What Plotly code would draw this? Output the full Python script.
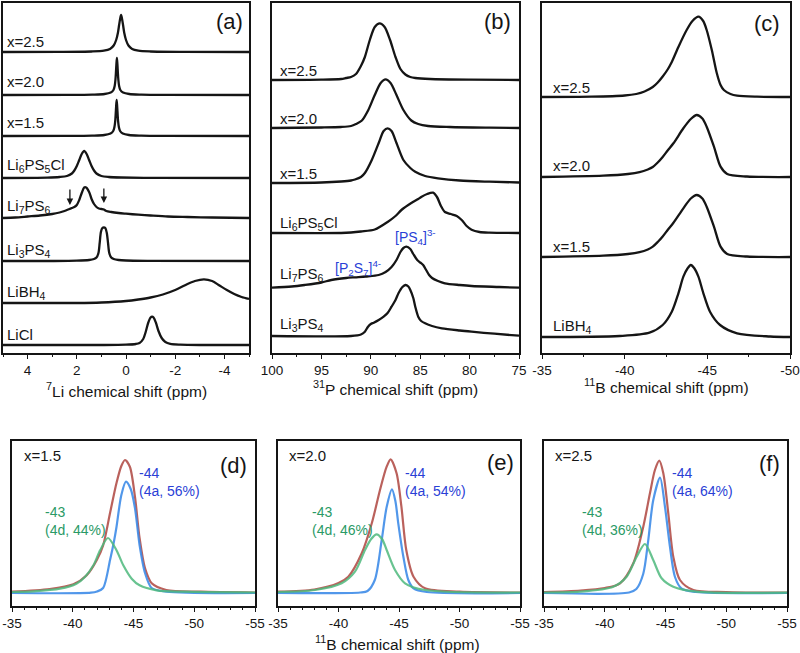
import plotly.graph_objects as go

# ---------------- Panel (a): 7Li spectra (ppm, intensity) ----------------
A_X25_PPM = [5, 2.7, 1.4, 0.9, 0.65, 0.5, 0.4, 0.33, 0.28, 0.24, 0.2, 0.16, 0.12, 0.07, 0.0, -0.1, -0.25, -0.5, -1.0, -2.3, -5]
A_X25_INT = [0, 0.1, 0.5, 1.3, 3, 6.5, 12, 19, 27, 33, 37, 33, 27, 19, 12, 6.5, 3, 1.3, 0.5, 0.1, 0]
A_X20_PPM = [5, 2.37, 1.37, 0.87, 0.62, 0.51, 0.46, 0.43, 0.41, 0.39, 0.37, 0.35, 0.33, 0.31, 0.28, 0.23, 0.12, -0.13, -0.63, -1.63, -5]
A_X20_INT = [0, 0.1, 0.4, 1, 2.5, 5, 9, 15, 22, 31, 37, 31, 22, 15, 9, 5, 2.5, 1, 0.4, 0.1, 0]
A_X15_PPM = [5, 2.38, 1.38, 0.88, 0.63, 0.52, 0.47, 0.44, 0.42, 0.4, 0.38, 0.36, 0.34, 0.32, 0.29, 0.24, 0.13, -0.12, -0.62, -1.62, -5]
A_X15_INT = [0, 0.1, 0.4, 1, 2.5, 5, 9, 14.5, 21.5, 30, 36, 30, 21.5, 14.5, 9, 5, 2.5, 1, 0.4, 0.1, 0]
A_LI6_PPM = [5, 3.2, 2.7, 2.4, 2.2, 2.1, 2.0, 1.9, 1.8, 1.7, 1.6, 1.5, 1.4, 1.3, 1.2, 1.0, 0.7, 0.2, -1.3, -5]
A_LI6_INT = [0, 0.4, 1, 2, 4.5, 7.5, 12, 18, 24, 27, 24, 18, 12, 7.5, 4.5, 2, 1, 0.5, 0.1, 0]
A_LI7_PPM = [5, 4.5, 4, 3.5, 3, 2.7, 2.5, 2.3, 2.2, 2.1, 2.0, 1.9, 1.8, 1.7, 1.62, 1.5, 1.4, 1.3, 1.2, 1.1,
             1.0, 0.9, 0.8, 0.6, 0.3, 0, -0.5, -1, -1.7, -2.5, -3.5, -5]
A_LI7_INT = [0, 0.5, 1.5, 2.5, 4, 5.5, 7, 9, 10, 11, 13, 18, 25, 30.5, 30.5, 26, 19, 14, 11, 9.5,
             9, 8.5, 7, 6, 5, 4.3, 3.3, 2.5, 1.5, 1, 0.5, 0]
A_LI3_PPM = [5, 3, 2, 1.5, 1.3, 1.2, 1.12, 1.07, 1.02, 0.96, 0.9, 0.84, 0.78, 0.73, 0.68, 0.6, 0.5, 0.3, 0, -1, -5]
A_LI3_INT = [0, 0, 0.3, 1, 2, 3.5, 8, 18, 29, 33, 33.5, 33, 28, 18, 8, 3.5, 2, 1, 0.5, 0.2, 0]
A_LIBH4_PPM = [5, 2, 1, 0, -0.5, -1, -1.5, -2, -2.5, -2.8, -3.17, -3.5, -3.8, -4.1, -4.4, -4.7, -5]
A_LIBH4_INT = [0, 0, 0.5, 2, 3.5, 5.5, 8.5, 13, 19, 22, 23.7, 22, 17.5, 13, 9, 6, 4]
A_LICL_PPM = [5, 1, 0, -0.4, -0.55, -0.7, -0.8, -0.9, -1.0, -1.06, -1.12, -1.22, -1.32, -1.45, -1.6, -1.8, -2.2, -3, -5]
A_LICL_INT = [0, 0, 0.3, 1, 2, 6, 13, 22, 27.5, 28.3, 27.5, 22, 14, 7, 3, 1.2, 0.4, 0, 0]
A_LABELS = ["x=2.5", "x=2.0", "x=1.5", "Li<sub>6</sub>PS<sub>5</sub>Cl", "Li<sub>7</sub>PS<sub>6</sub>",
            "Li<sub>3</sub>PS<sub>4</sub>", "LiBH<sub>4</sub>", "LiCl"]
A_OFFSETS = [301, 258, 217, 175, 135, 92, 50, 8]
A_TICKS = [4, 2, 0, -2, -4]
A_TICKTEXT = ["4", "2", "0", "-2", "-4"]

# ---------------- Panel (b): 31P spectra ----------------
B_X25_PPM = [100, 95, 93, 92.5, 92, 91.5, 91.0, 90.6, 90.1, 89.6, 89.1, 88.6, 88.05, 87.5, 87, 86.5, 86, 85.5, 84, 80, 75]
B_X25_INT = [0, 0.3, 1, 2, 3, 6, 14, 23, 40, 53, 56.7, 53, 40, 23, 11, 5.5, 3, 2, 1, 0.3, 0]
B_X20_PPM = [100, 95, 93, 92, 91.5, 90.9, 90.25, 89.6, 89.0, 88.5, 88.0, 87.4, 86.7, 85.9, 85.2, 84.2, 82, 78, 75]
B_X20_INT = [0, 0.5, 1, 2, 4, 7.5, 18, 33, 45, 48.7, 45, 33, 18, 7.5, 4, 2, 1, 0.3, 0]
B_X15_PPM = [100, 95, 93, 92, 91.6, 91, 90.6, 89.9, 89.2, 88.7, 88.3, 87.9, 87.4, 86.7, 86, 85.5, 84.5, 83.2, 81, 78, 75]
B_X15_INT = [0, 0.5, 1.5, 2.5, 3.5, 6, 10, 23, 40, 52, 54.7, 52, 40, 23, 15, 11.3, 7, 4.7, 2.5, 1.3, 0.5]
B_LI6_PPM = [100, 93, 92, 91, 89.6, 88.3, 87.5, 86.9, 85.9, 85.2, 84.9, 84.3, 83.7, 83.3, 82.9, 82.5, 81.9, 81.3, 80.8, 80.3, 79.8, 79, 78, 75]
B_LI6_INT = [0, 0, 0.5, 1.5, 3.5, 11, 17, 23, 30, 34, 36, 39, 40.3, 36, 27, 21, 19, 17, 13, 7, 3.3, 1, 0.3, 0]
B_LI7_PPM = [100, 98, 96.7, 95, 94, 92.5, 91.6, 90.5, 89.2, 88.5, 87.9, 87.4, 87.0, 86.7, 86.4, 86.0, 85.7, 85.3, 85.0,
             84.7, 84.4, 84.1, 83.8, 83.2, 82.5, 81, 79.8, 77, 75]
B_LI7_INT = [0.3, 1.5, 3, 5.5, 8, 10, 10.7, 11.5, 13, 16, 21, 28, 36, 40, 41.3, 39, 34, 28, 25.5,
             23, 18, 13, 10, 7, 4.7, 3, 2, 1, 0.3]
B_LI3_PPM = [100, 92, 91, 90.6, 90.3, 90.0, 89.7, 89.2, 88.7, 88.3, 87.9, 87.5, 87.2, 86.8, 86.5, 86.2, 86.0, 85.7,
             85.5, 85.2, 84.9, 84.5, 83.8, 82.8, 81, 79.8, 77.5, 75]
B_LI3_INT = [0, 0, 1.5, 4.3, 9, 12, 13.3, 16, 19.3, 23, 29.3, 36, 42.7, 49, 51, 49.5, 46, 38,
             29.3, 19.3, 15, 12.7, 10, 7.7, 5.5, 4.3, 2.3, 0.3]
B_LABELS = ["x=2.5", "x=2.0", "x=1.5", "Li<sub>6</sub>PS<sub>5</sub>Cl", "Li<sub>7</sub>PS<sub>6</sub>", "Li<sub>3</sub>PS<sub>4</sub>"]
B_OFFSETS = [273, 225, 170, 120, 65, 17]
B_TICKS = [100, 95, 90, 85, 80, 75]
B_TICKTEXT = ["100", "95", "90", "85", "80", "75"]

# ---------------- Panel (c): 11B spectra ----------------
C_X25_PPM = [-35, -38, -40, -40.7, -41.2, -41.7, -42.0, -42.3, -42.6, -42.85, -43.25, -43.75, -44.1, -44.46, -44.75, -44.96, -45.27,
             -45.57, -45.8, -46.0, -46.4, -46.8, -48, -50]
C_X25_INT = [0, 0.3, 1.5, 3, 5.5, 10, 14.5, 20.5, 27.5, 35, 50, 67, 76, 80.3, 76, 67, 47, 24, 12, 7, 3, 1.3, 0.3, 0]
C_X20_PPM = [-35, -38.7, -40.2, -40.9, -41.4, -41.7, -42.0, -42.3, -42.6, -42.95, -43.55, -44.0, -44.36, -44.7, -44.96, -45.4, -45.8, -46.2, -47.4, -50]
C_X20_INT = [0, 1.3, 3, 4.8, 7.5, 10, 14.5, 20, 26.5, 33.7, 48.7, 58, 62, 58.5, 50.3, 30.3, 10.3, 3, 0.5, 0]
C_X15_PPM = [-35, -38.7, -40.2, -40.9, -41.4, -41.7, -42.0, -42.3, -42.6, -42.95, -43.55, -44.0, -44.36, -44.7, -44.96, -45.4, -45.8, -46.2, -47.4, -50]
C_X15_INT = [0, 1.3, 3, 4.8, 7.5, 10.3, 15, 20.5, 27, 34.3, 48.7, 58.5, 62, 58.5, 50.3, 30.3, 10.3, 3, 0.5, 0]
C_LIBH4_PPM = [-35, -39.7, -41.5, -42.3, -42.85, -43.25, -43.55, -43.8, -44.0, -44.2, -44.46, -44.76, -45.16, -45.77, -46.8, -48.8, -50]
C_LIBH4_INT = [0, 1, 4.3, 12, 25.3, 43.7, 60.3, 68.5, 72, 69, 60.3, 43.7, 25.3, 12, 3.7, 0.5, 0]
C_LABELS = ["x=2.5", "x=2.0", "x=1.5", "LiBH<sub>4</sub>"]
C_OFFSETS = [256, 176, 96, 16]
C_TICKS = [-35, -40, -45, -50]
C_TICKTEXT = ["-35", "-40", "-45", "-50"]

# ---------------- Panels (d)-(f): 11B fits ----------------
D_SUM_PPM = [-35, -38.1, -40.05, -41.15, -41.97, -42.5, -43.07, -43.6, -44.0, -44.3, -44.7, -45.12, -45.5, -45.95, -46.5, -47.7, -50.5, -55]
D_SUM_INT = [1.3, 4, 8.7, 17.7, 32.7, 47.7, 80, 110, 127, 133, 126.3, 96.3, 55, 24.7, 9.7, 3, 1.3, 0.5]
D_4A_PPM = [-35, -41.5, -42.0, -42.5, -43.07, -43.4, -43.6, -44.0, -44.38, -44.77, -45.12, -45.5, -45.95, -46.5, -47.7, -55]
D_4A_INT = [0, 0.3, 1.5, 5, 33, 52, 66, 98, 111.3, 104, 85, 48, 20, 5, 1.3, 0]
D_4D_PPM = [-35, -36.75, -38.95, -40.3, -41.0, -41.7, -42.25, -42.9, -43.6, -44.16, -44.85, -45.5, -46.9, -49.1, -55]
D_4D_INT = [1, 1.7, 4.3, 9.3, 16, 27.7, 42.7, 55, 42.7, 27.7, 14.3, 7.7, 2.7, 1.3, 0.5]

E_SUM_PPM = [-35, -38, -40.0, -40.81, -41.92, -42.75, -43.43, -43.98, -44.31, -44.8, -45.2, -45.6, -46.2, -47.15, -50, -55]
E_SUM_INT = [1.3, 3.5, 10, 16.3, 39.7, 69.7, 103, 126.3, 133.7, 119.7, 86.3, 43, 16.3, 4.7, 1.3, 0.5]
E_4A_PPM = [-35, -41.8, -42.4, -43.0, -43.57, -43.98, -44.42, -44.7, -44.94, -45.36, -45.77, -46.2, -47.3, -55]
E_4A_INT = [0, 0.5, 2, 13, 53, 86, 103.7, 92, 69.7, 36.3, 13, 4.7, 1, 0]
E_4D_PPM = [-35, -38.06, -40.26, -41.36, -42.19, -42.7, -43.15, -43.6, -43.98, -44.67, -45.5, -47.15, -55]
E_4D_INT = [1, 3, 9.7, 21.3, 43, 54, 58.7, 54, 43, 23, 9.7, 3, 0.5]

F_SUM_PPM = [-35, -38, -40.0, -41.26, -42.35, -43.17, -43.72, -44.13, -44.49, -44.82, -45.23, -45.64, -46.19, -47.29, -50, -55]
F_SUM_INT = [1, 2.5, 5, 9.7, 29.7, 66.3, 99.7, 123, 132.3, 119.7, 79.7, 36.3, 13, 3, 1, 0.3]
F_4A_PPM = [-35, -42.0, -42.6, -43.17, -43.58, -43.99, -44.55, -44.96, -45.37, -45.78, -46.33, -47.5, -55]
F_4A_INT = [0, 0.5, 4, 19.3, 52.7, 92.7, 115.3, 86, 46, 16, 4.3, 1, 0]
F_4D_PPM = [-35, -37.96, -40.7, -41.8, -42.63, -43.31, -43.99, -44.68, -45.64, -47.57, -55]
F_4D_INT = [0.5, 1.3, 6.3, 16.3, 36.3, 49, 33, 14.7, 6.3, 1.3, 0.3]
FIT_TICKS = [-35, -40, -45, -50, -55]
FIT_TICKTEXT = ["-35", "-40", "-45", "-50", "-55"]

FIT_SAMPLES = ["x=1.5", "x=2.0", "x=2.5"]
FIT_4A_TEXT = ["-44<br>(4a, 56%)", "-44<br>(4a, 54%)", "-44<br>(4a, 64%)"]
FIT_4D_TEXT = ["-43<br>(4d, 44%)", "-43<br>(4d, 46%)", "-43<br>(4d, 36%)"]
PANEL_TAGS = ["(a)", "(b)", "(c)", "(d)", "(e)", "(f)"]

# ---------------- Figure ----------------
W, H = 800, 653
FONT = "Liberation Sans, Arial, sans-serif"
INK = "#151515"
C_SUM = "rgba(178,80,74,0.9)"
C_4A = "rgba(62,140,232,0.9)"
C_4D = "rgba(78,185,125,0.85)"
T_4A = "#2a3fd6"
T_4D = "#2a9a66"


def px(x):
    return x / W


def py(y):
    return 1 - y / H


fig = go.Figure()

top_sets = [
    ("x", "y", [(A_X25_PPM, A_X25_INT), (A_X20_PPM, A_X20_INT), (A_X15_PPM, A_X15_INT), (A_LI6_PPM, A_LI6_INT),
                (A_LI7_PPM, A_LI7_INT), (A_LI3_PPM, A_LI3_INT), (A_LIBH4_PPM, A_LIBH4_INT), (A_LICL_PPM, A_LICL_INT)], A_OFFSETS),
    ("x2", "y2", [(B_X25_PPM, B_X25_INT), (B_X20_PPM, B_X20_INT), (B_X15_PPM, B_X15_INT), (B_LI6_PPM, B_LI6_INT),
                  (B_LI7_PPM, B_LI7_INT), (B_LI3_PPM, B_LI3_INT)], B_OFFSETS),
    ("x3", "y3", [(C_X25_PPM, C_X25_INT), (C_X20_PPM, C_X20_INT), (C_X15_PPM, C_X15_INT), (C_LIBH4_PPM, C_LIBH4_INT)], C_OFFSETS),
]
for xa, ya, curves, offs in top_sets:
    for (xs, ys), off in zip(curves, offs):
        fig.add_trace(go.Scatter(x=xs, y=[v + off for v in ys], xaxis=xa, yaxis=ya, mode="lines",
                                 line=dict(color=INK, width=2.3, shape="spline", smoothing=0.8),
                                 showlegend=False, hoverinfo="skip"))

fit_sets = [
    ("x4", "y4", (D_SUM_PPM, D_SUM_INT), (D_4A_PPM, D_4A_INT), (D_4D_PPM, D_4D_INT)),
    ("x5", "y5", (E_SUM_PPM, E_SUM_INT), (E_4A_PPM, E_4A_INT), (E_4D_PPM, E_4D_INT)),
    ("x6", "y6", (F_SUM_PPM, F_SUM_INT), (F_4A_PPM, F_4A_INT), (F_4D_PPM, F_4D_INT)),
]
for xa, ya, s, a, d in fit_sets:
    for (xs, ys), col in ((s, C_SUM), (a, C_4A), (d, C_4D)):
        fig.add_trace(go.Scatter(x=xs, y=ys, xaxis=xa, yaxis=ya, mode="lines",
                                 line=dict(color=col, width=2.2, shape="spline", smoothing=0.8),
                                 showlegend=False, hoverinfo="skip"))


def xaxis(dom, rng, tickvals, ticktext, minor, anchor):
    return dict(domain=[px(dom[0]), px(dom[1])], range=rng, anchor=anchor, automargin=False,
                showline=True, mirror=True, linecolor=INK, linewidth=1.5,
                ticks="outside", ticklen=4, tickwidth=1.2, tickcolor=INK,
                tickmode="array", tickvals=tickvals, ticktext=ticktext,
                minor=dict(dtick=minor, tick0=0, ticks="outside", ticklen=2.5, tickwidth=1, tickcolor=INK),
                showgrid=False, zeroline=False, tickfont=dict(size=13.5, color=INK, family=FONT), fixedrange=True)


def yaxis(top, bot, rng, anchor):
    return dict(domain=[py(bot), py(top)], range=rng, anchor=anchor, automargin=False,
                showline=True, mirror=True, linecolor=INK, linewidth=1.5, showticklabels=False, ticks="",
                showgrid=False, zeroline=False, fixedrange=True)


layout = dict(template="none", width=W, height=H, margin=dict(l=0, r=0, t=0, b=0, pad=0),
              paper_bgcolor="white", plot_bgcolor="white",
              font=dict(family=FONT, color=INK), showlegend=False)
layout["xaxis"] = xaxis((3, 249), [5, -5], A_TICKS, A_TICKTEXT, 1, "y")
layout["xaxis2"] = xaxis((272, 519), [100, 75], B_TICKS, B_TICKTEXT, 2.5, "y2")
layout["xaxis3"] = xaxis((542, 790), [-35, -50], C_TICKS, C_TICKTEXT, 2.5, "y3")
layout["xaxis4"] = xaxis((12, 255), [-35, -55], FIT_TICKS, FIT_TICKTEXT, 1, "y4")
layout["xaxis5"] = xaxis((278, 520), [-35, -55], FIT_TICKS, FIT_TICKTEXT, 1, "y5")
layout["xaxis6"] = xaxis((544, 787), [-35, -55], FIT_TICKS, FIT_TICKTEXT, 1, "y6")
layout["yaxis"] = yaxis(3, 353, [0, 350], "x")
layout["yaxis2"] = yaxis(3, 353, [0, 350], "x2")
layout["yaxis3"] = yaxis(3, 353, [0, 350], "x3")
layout["yaxis4"] = yaxis(441, 606, [-13, 152], "x4")
layout["yaxis5"] = yaxis(441, 606, [-13, 152], "x5")
layout["yaxis6"] = yaxis(441, 606, [-13, 152], "x6")

ann = []


def txt(x, y, s, size=15, color=INK, xanchor="left"):
    ann.append(dict(x=px(x), y=py(y), xref="paper", yref="paper", text=s, showarrow=False,
                    xanchor=xanchor, yanchor="middle", font=dict(size=size, color=color, family=FONT)))


# spectrum labels
a_label_y = [42, 82, 123, 165, 206, 250, 292, 334]
for s, y in zip(A_LABELS, a_label_y):
    txt(5, y, s)
b_label_y = [71, 118, 173, 224, 274, 325]
for s, y in zip(B_LABELS, b_label_y):
    txt(278, y, s)
c_label_y = [87, 166, 246, 327]
for s, y in zip(C_LABELS, c_label_y):
    txt(551, y, s)

# peak assignments in (b)
txt(415, 237, "[PS<sub>4</sub>]<sup>3-</sup>", size=14, color=T_4A, xanchor="center")
txt(358, 268, "[P<sub>2</sub>S<sub>7</sub>]<sup>4-</sup>", size=14, color=T_4A, xanchor="center")

# panel tags
for tag, (x, y) in zip(PANEL_TAGS, [(230, 22), (497, 22), (767, 24), (233, 465), (500, 462), (769, 463)]):
    txt(x, y, tag, size=22, xanchor="center")

# axis titles
txt(126, 390, "<sup>7</sup>Li chemical shift (ppm)", size=15.5, xanchor="center")
txt(395, 388, "<sup>31</sup>P chemical shift (ppm)", size=15.5, xanchor="center")
txt(666, 386, "<sup>11</sup>B chemical shift (ppm)", size=15.5, xanchor="center")
txt(397, 643, "<sup>11</sup>B chemical shift (ppm)", size=15.5, xanchor="center")

# fit labels
for i, (x0, xa_, xd_) in enumerate([(22, 137, 43), (287, 403, 310), (553, 670, 580)]):
    txt(x0, 455, FIT_SAMPLES[i])
    ann.append(dict(x=px(xa_), y=py(482), xref="paper", yref="paper", text=FIT_4A_TEXT[i], showarrow=False,
                    xanchor="left", yanchor="middle", align="left", font=dict(size=14, color=T_4A, family=FONT)))
    ann.append(dict(x=px(xd_), y=py(521), xref="paper", yref="paper", text=FIT_4D_TEXT[i], showarrow=False,
                    xanchor="left", yanchor="middle", align="left", font=dict(size=14, color=T_4D, family=FONT)))

# arrows on Li7PS6 shoulders in (a)
for xa_, tip, tail in [(2.28, 148, 165), (0.9, 150, 166)]:
    ann.append(dict(x=xa_, y=tip, ax=xa_, ay=tail, xref="x", yref="y", axref="x", ayref="y", text="",
                    showarrow=True, arrowhead=2, arrowsize=1, arrowwidth=1.3, arrowcolor=INK))

layout["annotations"] = ann
fig.update_layout(**layout)
fig.write_html("out.html", config={"displayModeBar": False},
               post_script="document.body.style.margin='0px';document.body.style.overflow='hidden';")
